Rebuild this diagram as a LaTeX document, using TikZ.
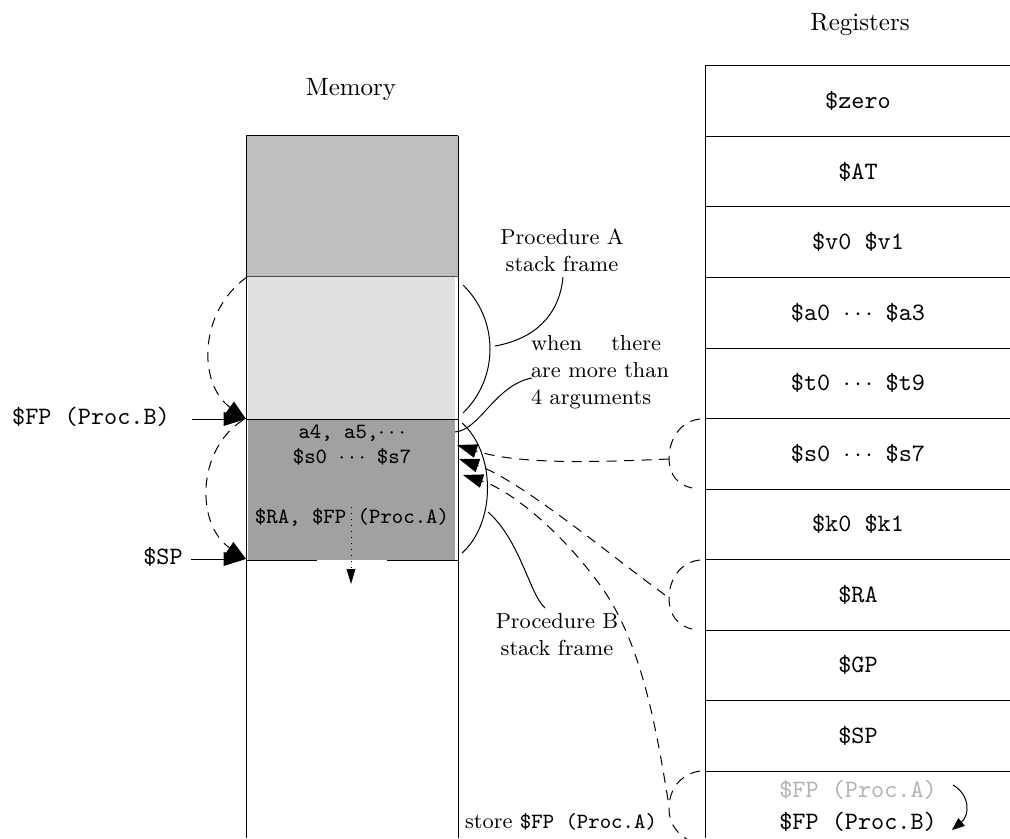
\documentclass[tikz,border=0pt]{standalone}
\usetikzlibrary{arrows.meta}
\newcommand\smallsz{\fontsize{8.7pt}{10.8pt}\selectfont}
\begin{document}
\begin{tikzpicture}[x=0.4pt,y=-0.4pt,
  lbl/.style={inner sep=0pt, font=\smallsz, align=center},
  reg/.style={inner sep=0pt, font=\ttfamily},
  mem/.style={inner sep=0pt, font=\smallsz\ttfamily, align=center},
  dsline/.style={dash pattern=on 4pt off 3pt},
  big/.style={-{Triangle[length=9pt,width=5.5pt]}},
  dsh/.style={dsline, -{Triangle[length=8pt,width=5.5pt]}},
  tiny/.style={-{Triangle[length=5pt,width=4pt]}},
]
\useasboundingbox (0,0) rectangle (1010,838);
\clip (0,0) rectangle (1010,838);

% ---------- memory column ----------
\fill[black!25] (246,136) rectangle (458,277);
\fill[black!12] (248,277) rectangle (455,419);
\fill[black!37] (248,419) rectangle (455,560);
\draw[black!70] (246,277) -- (458,277);
\draw (246,136) -- (458,136);
\draw (246,136) -- (246,838);
\draw (458,136) -- (458,838);
\draw (246,419) -- (458,419);
\draw (246,560) -- (317,560);
\draw (387,560) -- (458,560);

\node (memt) at (351,90) {Memory};
\node[mem] (m12) at (352,445) {a4, a5,$\cdots$\\[-1pt]\$s0 $\cdots$ \$s7};
\node[mem] (m3) at (352,517) {\$RA, \$FP (Proc.A)};

\coordinate (dotS) at (351,507);
\coordinate (dotE) at (351,584);
\draw[dotted, -{Triangle[length=6pt,width=3.5pt]}] (dotS) -- (dotE);

% left labels and arrows
\node[reg] (fpb) at (91,417) {\$FP (Proc.B)};
\node[reg] (sp) at (163,557) {\$SP};
\coordinate (fpbS) at (192,419);
\coordinate (spS) at (191,559);
\coordinate (mL1) at (247,277);
\coordinate (mL2) at (246,419);
\coordinate (mL2b) at (243,420);
\coordinate (mL3) at (246,559);
\draw[big] (fpbS) -- (mL2);
\draw[big] (spS) -- (mL3);
\draw[dsh] (mL1) .. controls (198,312) and (198,384) .. (mL2);
\draw[dsh] (mL2b) .. controls (196,450) and (196,525) .. (mL3);

% ---------- right brackets and labels ----------
\node[lbl] (pA) at (562,250) {Procedure A\\stack frame};
\node[lbl] (pB) at (557,635) {Procedure B\\stack frame};
\node[lbl, align=left] (when) at (600,372) {\makebox[52pt][s]{when there}\\are more than\\4 arguments};
\node[lbl] (store) at (561,822) {store \texttt{\$FP (Proc.A)}};

\coordinate (aT) at (463,285);
\coordinate (aB) at (463,413);
\coordinate (aM) at (495,346);
\coordinate (aL) at (563,277);
\draw (aT) .. controls (499,320) and (499,378) .. (aB);
\draw (aM) .. controls (540,338) and (560,310) .. (aL);

\coordinate (bT) at (462,423);
\coordinate (bB) at (462,553);
\coordinate (bM) at (488,512);
\coordinate (bL) at (545,608);
\draw (bT) .. controls (496,453) and (496,523) .. (bB);
\draw (bM) .. controls (520,540) and (530,595) .. (bL);

\coordinate (wS) at (455,432);
\coordinate (wE) at (532,378);
\draw (wS) .. controls (480,430) and (495,385) .. (wE);

% ---------- registers ----------
\node (regt) at (860,25) {Registers};
\draw (705,66) -- (705,838);
\foreach \y in {66,136.5,207,277.5,348,418.5,489,559.5,630,700.5,771}
  \draw (705,\y) -- (1010,\y);

\node[reg] (r0) at (858,101.25) {\$zero};
\node[reg] (r1) at (858,171.75) {\$AT};
\node[reg] (r2) at (858,242.25) {\$v0 \$v1};
\node[reg] (r3) at (858,312.75) {\$a0 $\cdots$ \$a3};
\node[reg] (r4) at (858,383.25) {\$t0 $\cdots$ \$t9};
\node[reg] (r5) at (858,453.75) {\$s0 $\cdots$ \$s7};
\node[reg] (r6) at (858,524.25) {\$k0 \$k1};
\node[reg] (r7) at (858,594.75) {\$RA};
\node[reg] (r8) at (858,665.25) {\$GP};
\node[reg] (r9) at (858,735.75) {\$SP};
\node[reg, text=black!30] (rA) at (858,790) {\$FP (Proc.A)};
\node[reg] (rB) at (858,822) {\$FP (Proc.B)};

\coordinate (cA) at (953,785);
\coordinate (cB) at (952,830);
\draw[tiny] (cA) .. controls (970,795) and (970,815) .. (cB);

% register-side dashed loops and links
\coordinate (sL) at (669,459);
\coordinate (sTip) at (457,445);
\draw[dsline] (700,419) .. controls (680,421) and (669,440) .. (669,458)
  .. controls (669,475) and (678,485) .. (692,488);
\draw[dsh] (sL) .. controls (600,462) and (520,465) .. (sTip);

\coordinate (raL) at (665,595);
\coordinate (raTip) at (459,459);
\draw[dsline] (700,560) .. controls (680,562) and (669,580) .. (669,598)
  .. controls (669,615) and (678,626) .. (692,629);
\draw[dsh] (raL) .. controls (610,555) and (520,480) .. (raTip);

\coordinate (fpL) at (668,800);
\coordinate (fpTip) at (463,475);
\draw[dsline] (700,771) .. controls (680,774) and (669,790) .. (669,808)
  .. controls (669,825) and (678,835) .. (692,842);
\draw[dsh] (fpL) .. controls (655,720) and (640,640) .. (600,585)
  .. controls (560,530) and (510,490) .. (fpTip);
\end{tikzpicture}
\end{document}
